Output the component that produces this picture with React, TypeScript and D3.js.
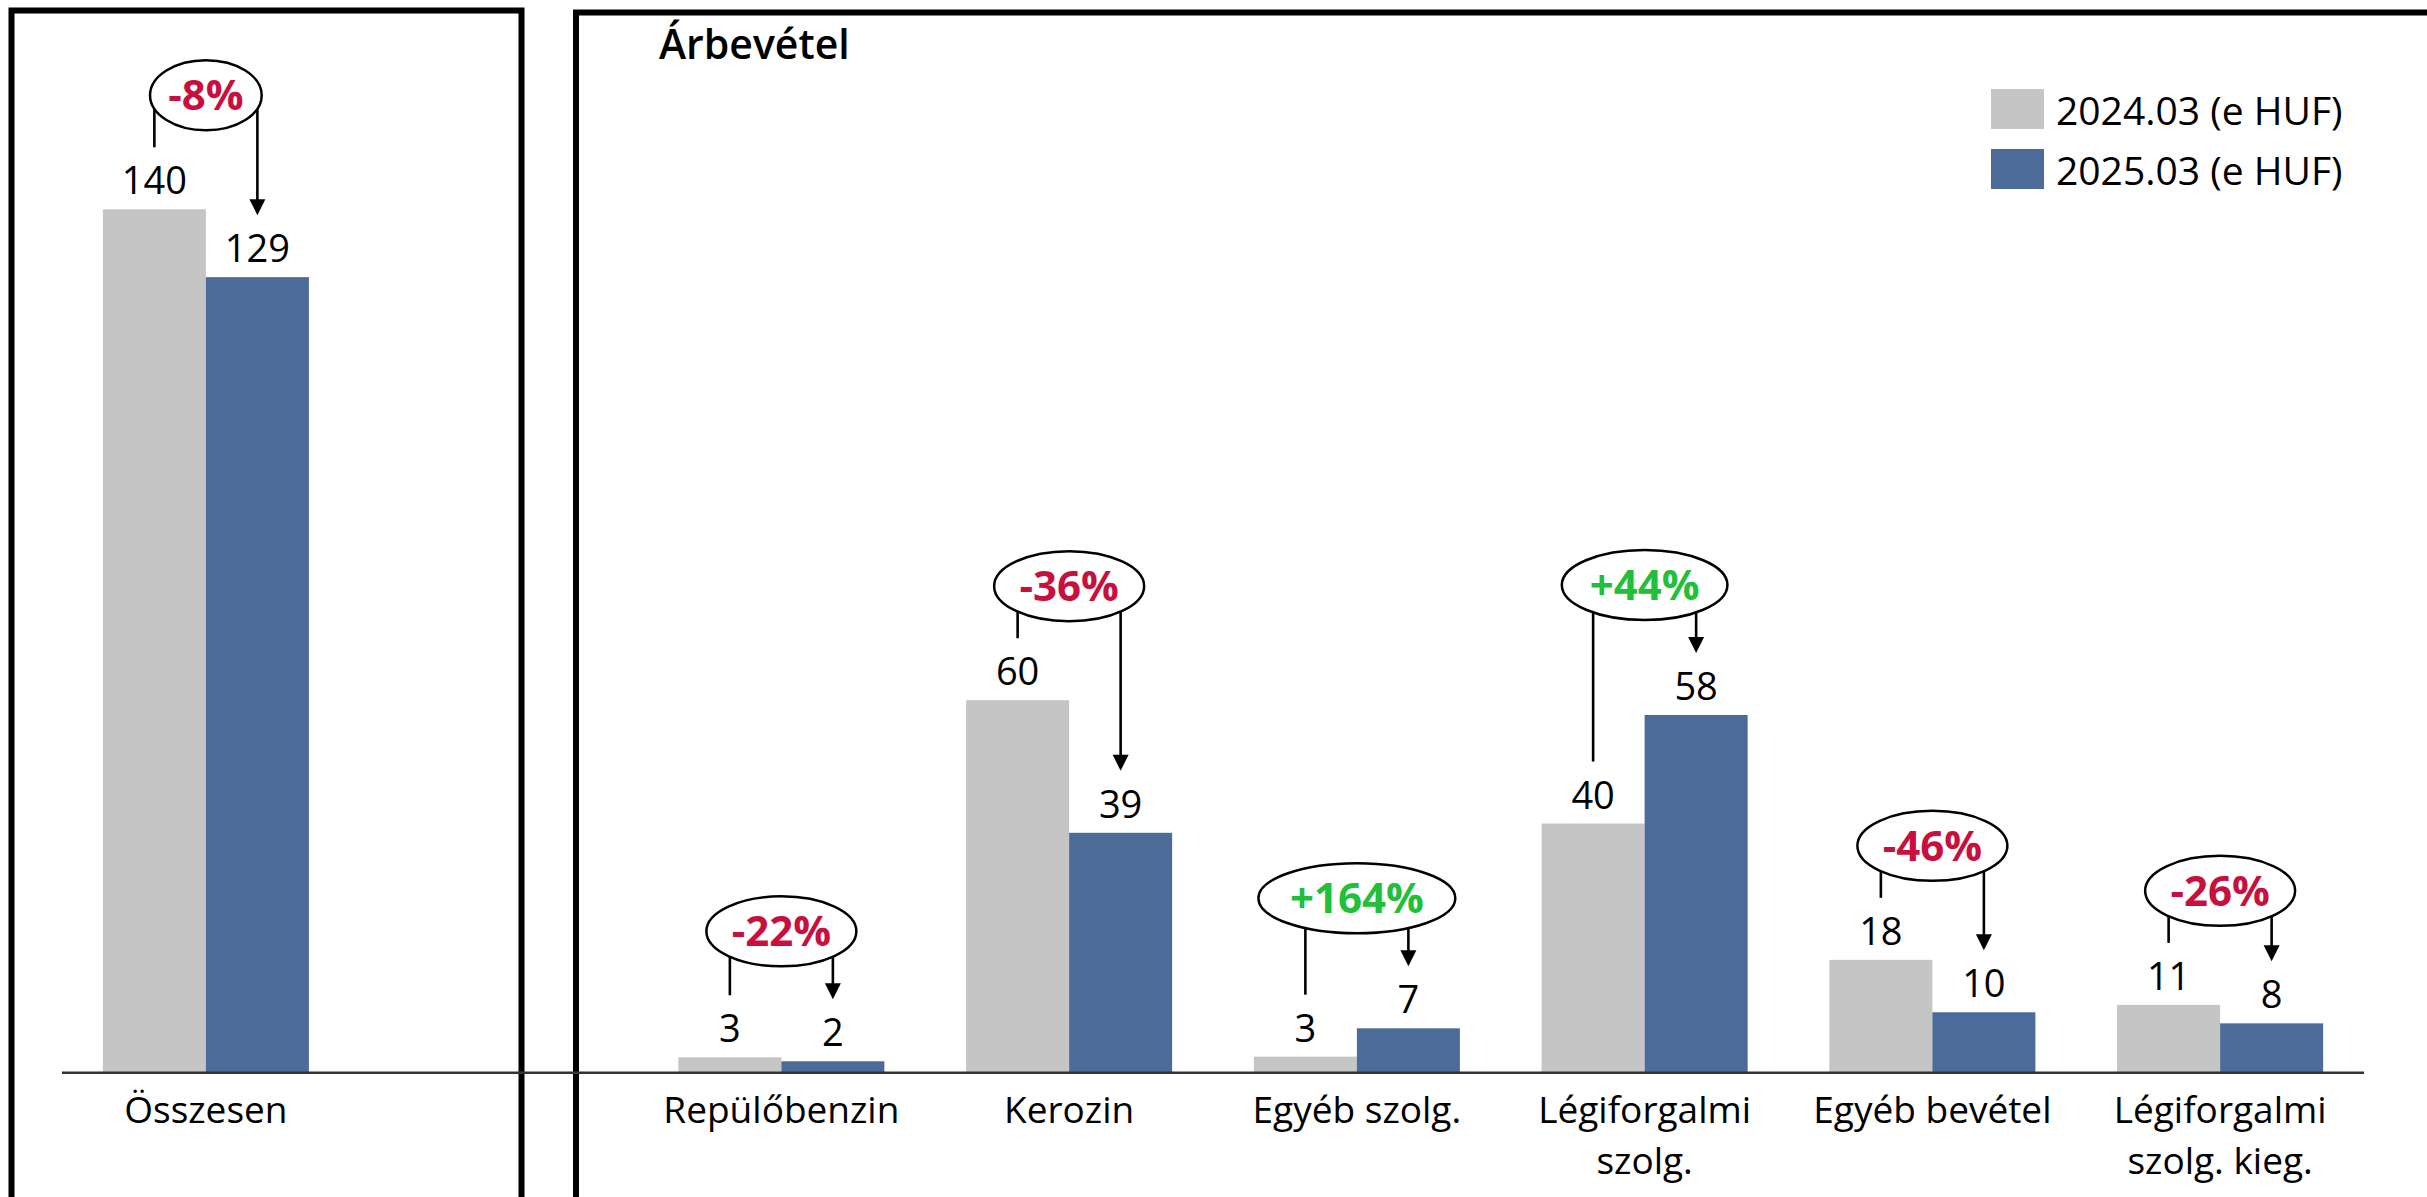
import React from "react";
import * as d3 from "d3";

const categories = [
  "Összesen",
  "Repülőbenzin",
  "Kerozin",
  "Egyéb szolg.",
  "Légiforgalmi\nszolg.",
  "Egyéb bevétel",
  "Légiforgalmi\nszolg. kieg.",
];
// slot position of each category on the shared band axis (slot 1 is the gap between panels)
const slots = [0, 2, 3, 4, 5, 6, 7];
const values2024 = [140, 2.5, 60.4, 2.6, 40.4, 18.3, 11.0];
const values2025 = [129, 1.85, 38.9, 7.2, 58.0, 9.8, 8.0];
const changeLabels = ["-8%", "-22%", "-36%", "+164%", "+44%", "-46%", "-26%"];
const seriesNames = ["2024.03 (e HUF)", "2025.03 (e HUF)"];

const W = 2427;
const H = 1197;
const GRAY = "#C5C5C5";
const BLUE = "#4C6B99";
const RED = "#C8103E";
const GREEN = "#22C03A";
const FONT = "'Open Sans', 'Noto Sans', sans-serif";

const charW: Record<string, number> = { "-": 13, "+": 24, "1": 22, "%": 33 };
function pctWidth(s: string) {
  let w = 0;
  for (const c of s) w += charW[c] ?? 27;
  return w;
}

export default function App() {
  const x = d3
    .scaleBand<number>()
    .domain(d3.range(8))
    .range([62, 2364])
    .paddingInner(0.284)
    .paddingOuter(0.142);
  const inner = d3
    .scaleBand<string>()
    .domain(["a", "b"])
    .range([0, x.bandwidth()]);
  const y = d3.scaleLinear().domain([0, 140]).range([1072.7, 209.3]);
  const base = y(0);

  const groups = categories.map((c, i) => {
    const x0 = x(slots[i]) as number;
    const vals = [values2024[i], values2025[i]];
    const bars = vals.map((v, j) => {
      const bx = x0 + (inner(j === 0 ? "a" : "b") as number);
      return { v, x: bx, w: inner.bandwidth(), top: y(v), cx: bx + inner.bandwidth() / 2 };
    });
    const legEnd = bars.map((b) => b.top - 62);
    const cy = Math.min(legEnd[0], legEnd[1] - 16) - 52;
    const cx = x0 + x.bandwidth() / 2;
    const label = changeLabels[i];
    const rx = 0.71 * pctWidth(label) + 4;
    return { c, i, x0, bars, legEnd, cy, cx, label, rx };
  });

  return (
    <svg
      width={W}
      height={H}
      style={{ position: "absolute", left: 0, top: 0, display: "block", background: "#fff" }}
      fontFamily={FONT}
    >
      <rect x={0} y={0} width={W} height={H} fill="#fff" />
      {/* frames */}
      <path d={`M11.5,${H + 10} V10.5 H521.5 V${H + 10}`} fill="none" stroke="#000" strokeWidth={6} />
      <path d={`M576,${H + 10} V12.5 H${W + 10}`} fill="none" stroke="#000" strokeWidth={6} />

      {/* title */}
      <text x={659} y={59} fontSize={41} fontWeight={600} fill="#000">
        Árbevétel
      </text>

      {/* legend */}
      {seriesNames.map((s, j) => (
        <g key={s}>
          <rect x={1991} y={89 + j * 60} width={53} height={40} fill={j === 0 ? GRAY : BLUE} />
          <text x={2056} y={125 + j * 60} fontSize={39} fill="#000">
            {s}
          </text>
        </g>
      ))}

      {/* bars */}
      {groups.map((g) =>
        g.bars.map((b, j) => (
          <rect
            key={`${g.i}-${j}`}
            x={b.x}
            y={b.top}
            width={b.w}
            height={base - b.top}
            fill={j === 0 ? GRAY : BLUE}
          />
        ))
      )}

      {/* baseline */}
      <line x1={62} x2={2364} y1={base} y2={base} stroke="#333" strokeWidth={2.5} />

      {/* value labels */}
      {groups.map((g) =>
        g.bars.map((b, j) => (
          <text
            key={`l${g.i}-${j}`}
            x={b.cx}
            y={b.top - 15}
            textAnchor="middle"
            fontSize={38}
            fill="#000"
          >
            {Math.round(b.v)}
          </text>
        ))
      )}

      {/* change annotations */}
      {groups.map((g) => {
        const [b0, b1] = g.bars;
        const tip = g.legEnd[1];
        const up = g.label.startsWith("+");
        return (
          <g key={`a${g.i}`}>
            <line x1={b0.cx} x2={b0.cx} y1={g.cy} y2={g.legEnd[0]} stroke="#000" strokeWidth={2.6} />
            <line x1={b1.cx} x2={b1.cx} y1={g.cy} y2={tip - 14} stroke="#000" strokeWidth={2.6} />
            <path
              d={`M${b1.cx - 8},${tip - 16} L${b1.cx + 8},${tip - 16} L${b1.cx},${tip} Z`}
              fill="#000"
            />
            <ellipse cx={g.cx} cy={g.cy} rx={g.rx} ry={35} fill="#fff" stroke="#000" strokeWidth={2.5} />
            <text
              x={g.cx}
              y={g.cy + 15}
              textAnchor="middle"
              fontSize={42}
              fontWeight={700}
              fill={up ? GREEN : RED}
            >
              {g.label}
            </text>
          </g>
        );
      })}

      {/* category labels */}
      {groups.map((g) => (
        <text key={`c${g.i}`} textAnchor="middle" fontSize={37} fill="#000">
          {g.c.split("\n").map((line, k) => (
            <tspan key={k} x={g.cx} y={1123 + k * 50.5}>
              {line}
            </tspan>
          ))}
        </text>
      ))}
    </svg>
  );
}
